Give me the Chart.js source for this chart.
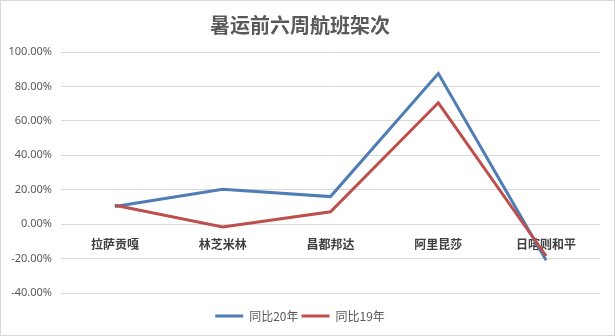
<!DOCTYPE html>
<html>
<head>
<meta charset="utf-8">
<script src="https://cdn.jsdelivr.net/npm/chart.js@4/dist/chart.umd.min.js"></script>
<style>
  html, body { margin: 0; padding: 0; background: #fff; }
  #wrap { position: relative; width: 615px; height: 336px; }
  #frame { position: absolute; left: 0; top: 0; width: 613px; height: 334px; border: 1px solid #d9d9d9; pointer-events: none; }
</style>
</head>
<body>
<div id="wrap">
  <canvas id="flight-chart" width="615" height="336"></canvas>
  <div id="frame"></div>
</div>
<script>
// 机场
const airports = ["拉萨贡嘎", "林芝米林", "昌都邦达", "阿里昆莎", "日喀则和平"];
// 同比 (%)
const vs2020 = [10.2, 20.2, 16.0, 87.5, -21.0];
const vs2019 = [11.0, -1.6, 7.2, 70.5, -18.5];
const yTicks = { min: -40, max: 100, step: 20 };

const ctx = document.getElementById("flight-chart").getContext("2d");

new Chart(ctx, {
  type: "line",
  data: {
    labels: airports,
    datasets: [
      {
        label: "同比20年",
        data: vs2020,
        borderColor: "#4f7db4",
        backgroundColor: "#4f7db4",
        borderWidth: 3,
        pointRadius: 0,
        tension: 0,
        order: 1,
      },
      {
        label: "同比19年",
        data: vs2019,
        borderColor: "#bd4f4d",
        backgroundColor: "#bd4f4d",
        borderWidth: 3,
        pointRadius: 0,
        tension: 0,
        order: 0,
      },
    ],
  },
  options: {
    responsive: false,
    animation: false,
    layout: { padding: { left: 0, right: 15, top: 0, bottom: 4 } },
    plugins: {
      tooltip: { enabled: false },
      title: {
        display: true,
        text: "暑运前六周航班架次",
        color: "#595959",
        font: { family: "'Noto Sans CJK SC'", size: 20, weight: "bold" },
        padding: { top: 13, bottom: 15 },
      },
      legend: {
        display: true,
        position: "bottom",
        labels: {
          usePointStyle: true,
          pointStyle: "line",
          pointStyleWidth: 28,
          padding: 3,
          color: "#595959",
          font: { family: "'Noto Sans CJK SC'", size: 12 },
          sort: (a, b) => a.datasetIndex - b.datasetIndex,
        },
      },
    },
    scales: {
      x: {
        type: "category",
        position: { y: 0 },
        offset: true,
        grid: { display: false },
        border: { display: false },
        ticks: {
          padding: 5,
          maxRotation: 0,
          autoSkip: false,
          color: "#404040",
          font: { family: "'Noto Sans CJK SC'", size: 12, weight: "bold" },
        },
      },
      gap: {
        type: "category",
        axis: "x",
        position: "bottom",
        grid: { display: false },
        border: { display: false },
        ticks: { display: false },
        afterFit: (scale) => { scale.height = 14; },
      },
      y: {
        min: yTicks.min,
        max: yTicks.max,
        border: { display: false },
        grid: { color: "#d9d9d9", lineWidth: 1, drawTicks: false },
        ticks: {
          stepSize: yTicks.step,
          padding: 9,
          color: "#595959",
          font: { family: "'Noto Sans'", size: 11 },
          callback: (value) => Number(value).toFixed(2) + "%",
        },
        afterFit: (scale) => { scale.width = 61; },
      },
    },
  },
});
</script>
</body>
</html>
